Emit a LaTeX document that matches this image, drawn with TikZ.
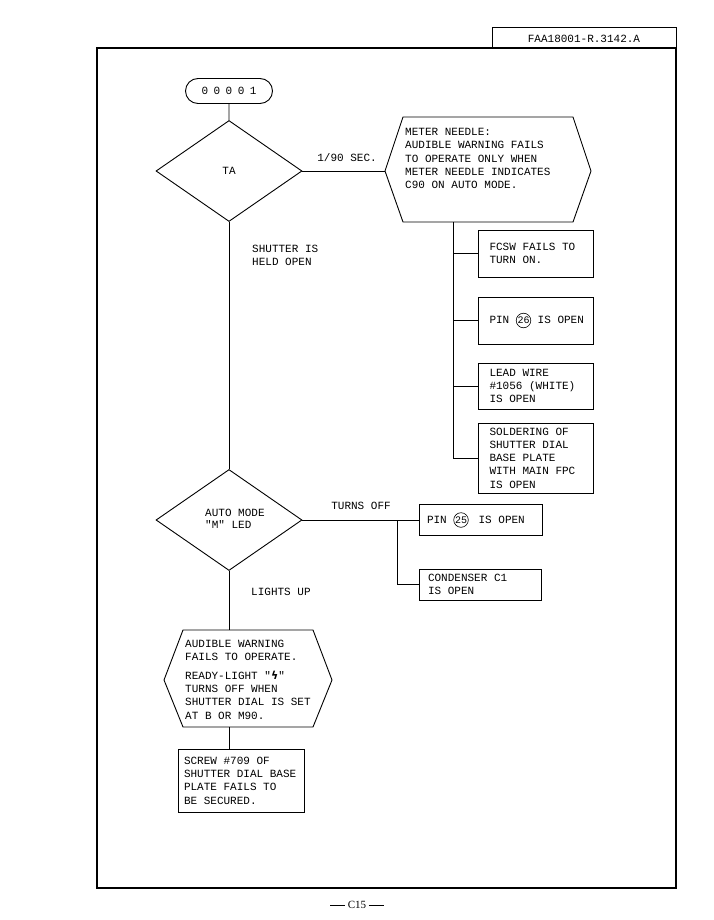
\documentclass[tikz,border=0pt]{standalone}
\usepackage{fontspec}
\setmainfont[Ligatures=TeXOff, WordSpace={1,0,0}]{Liberation Mono}
\newfontfamily\dejavu{DejaVu Sans}
\newfontfamily\serifft{Liberation Serif}
\usetikzlibrary{shapes.geometric,shapes.misc}
\newcommand{\circnum}[1]{\tikz[baseline=(cn.base)]\node[draw, circle, text width={}, minimum width=0pt, minimum height=0pt, inner sep=0.3pt, line width=0.6pt, font=\fontsize{10}{12}\selectfont, align=center](cn){#1};}
\newcommand{\fixsp}{\spaceskip=0pt\xspaceskip=0pt\relax}
\begin{document}
\begin{tikzpicture}[x=1pt,y=-1pt,
  txt/.style={font=\fontsize{11}{13.3}\selectfont, align=left, inner sep=0pt},
  ln/.style={line width=0.8pt},
  shp/.style={line width=0.9pt},
  box/.style={draw, line width=0.9pt, font=\fontsize{11}{13.3}\selectfont, align=flush left, inner ysep=0pt},
  dia/.style={diamond, draw, line width=0.9pt, minimum width=146pt, minimum height=101pt, inner sep=0pt}]
\useasboundingbox (0,0) rectangle (714,920);
\fill[white] (0,0) rectangle (714,920);
% frame and tab
\draw[line width=1.1pt] (97,48) rectangle (676,888);
\draw[line width=1pt] (492,48) -- (492,28) -- (676,28) -- (676,48);
\node[txt] (code) at (584,38.5) {FAA18001-R.3142.A};
% start
\node[draw, rounded rectangle, shp, minimum width=87pt, minimum height=25pt, txt] (start) at (229,91) {0\hspace{5.5pt}0\hspace{5.5pt}0\hspace{5.5pt}0\hspace{5.5pt}1};
% TA
\node[dia, font=\fontsize{11}{13.3}\selectfont] (ta) at (229,171) {TA};
\draw[ln] (start) -- (ta);
% meter needle hexagon
\coordinate (mL) at (385,171);
\coordinate (mTL) at (403,117);
\coordinate (mTR) at (573,117);
\coordinate (mR) at (591,171);
\coordinate (mBR) at (573,222);
\coordinate (mBL) at (403,222);
\draw[shp] (mL) -- (mTL) -- (mTR) -- (mR) -- (mBR) -- (mBL) -- cycle;
\node[txt, anchor=north west] (meter) at (405,128) {METER NEEDLE:\\AUDIBLE WARNING FAILS\\TO OPERATE ONLY WHEN\\METER NEEDLE INDICATES\\C90 ON AUTO MODE.};
\draw[ln] (ta.east) -- (mL);
\node[txt] (sec) at (347,158) {1/90 SEC.};
\coordinate (mB) at (453,222);
% right boxes
\node[box, text width=92pt, inner xsep=11.5pt, minimum height=47pt] (fcsw) at (535.5,253.5) {\fixsp FCSW FAILS TO\\TURN ON.};
\node[box, text width=92pt, inner xsep=11.5pt, minimum height=47pt] (pin26) at (535.5,320.5) {\fixsp\mbox{PIN \circnum{26} IS OPEN}};
\node[box, text width=92pt, inner xsep=11.5pt, minimum height=46pt] (lead) at (535.5,386) {\fixsp LEAD WIRE\\\#1056 (WHITE)\\IS OPEN};
\node[box, text width=92pt, inner xsep=11.5pt, minimum height=70pt] (sold) at (535.5,458) {\fixsp SOLDERING OF\\SHUTTER DIAL\\BASE PLATE\\WITH MAIN FPC\\IS OPEN};
\draw[ln] (mB) -- (mB |- sold.west) -- (sold.west);
\draw[ln] (mB |- fcsw.west) -- (fcsw.west);
\draw[ln] (mB |- pin26.west) -- (pin26.west);
\draw[ln] (mB |- lead.west) -- (lead.west);
\node[txt, anchor=north west] (held) at (252,244.5) {SHUTTER IS\\HELD OPEN};
% auto mode
\node[dia] (auto) at (229,520) {};
\draw[ln] (ta) -- (auto);
\node[txt, anchor=north west] (autot) at (205,509) {AUTO MODE\\[-1.3pt]"M" LED};
\node[box, text width=107pt, inner xsep=8pt, minimum height=31pt] (pin25) at (480.5,520) {\fixsp\mbox{PIN \circnum{25}\hspace{10pt}IS OPEN}};
\node[box, text width=104pt, inner xsep=9pt, minimum height=31pt] (cond) at (480,584.5) {\fixsp CONDENSER C1\\IS OPEN};
\draw[ln] (auto.east) -- (pin25.west);
\coordinate (jn) at (397,520);
\draw[ln] (jn) -- (jn |- cond.west) -- (cond.west);
\node[txt] (toff) at (361,506) {TURNS OFF};
\node[txt, anchor=west] (lup) at (251,592) {LIGHTS UP};
% audible hexagon
\coordinate (aL) at (164,680);
\coordinate (aTL) at (183,630);
\coordinate (aTR) at (313,630);
\coordinate (aR) at (332,680);
\coordinate (aBR) at (313,727);
\coordinate (aBL) at (183,727);
\coordinate (aT) at (229,630);
\coordinate (aB) at (229,727);
\draw[shp] (aL) -- (aTL) -- (aTR) -- (aR) -- (aBR) -- (aBL) -- cycle;
\draw[ln] (auto) -- (aT);
\node[txt, anchor=north west] (aud) at (185,639.5) {AUDIBLE WARNING\\FAILS TO OPERATE.\\[5.5pt]READY-LIGHT "{\dejavu\bfseries ϟ}"\\TURNS OFF WHEN\\SHUTTER DIAL IS SET\\AT B OR M90.};
% screw
\node[box, text width=114pt, inner xsep=6pt, minimum height=63pt] (screw) at (241,780.5) {\fixsp SCREW \#709 OF\\SHUTTER DIAL BASE\\PLATE FAILS TO\\BE SECURED.};
\draw[ln] (aB) -- (aB |- screw.north);
% footer
\node[font=\serifft\fontsize{11}{13}\selectfont, inner sep=0pt] (pg) at (357,905) {\rule[3pt]{15pt}{0.6pt} C15 \rule[3pt]{15pt}{0.6pt}};
\end{tikzpicture}
\end{document}
